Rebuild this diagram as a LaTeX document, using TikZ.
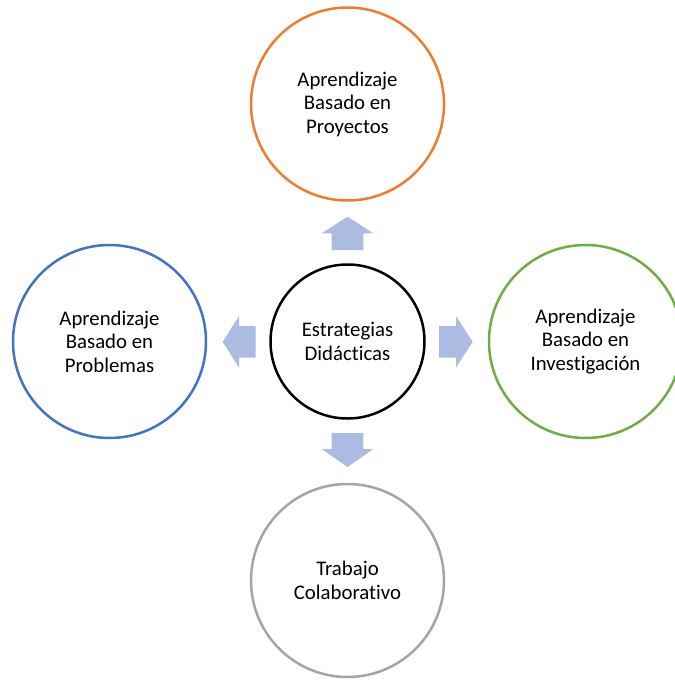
\documentclass[tikz,border=0pt]{standalone}
\usepackage{fontspec}
\setmainfont[Ligatures=NoCommon]{Carlito}
\definecolor{orng}{HTML}{ED7D31}
\definecolor{grn}{HTML}{70AD47}
\definecolor{blu}{HTML}{4472C4}
\definecolor{gry}{HTML}{A5A5A5}
\definecolor{arrblue}{RGB}{171,187,226}
\begin{document}
\begin{tikzpicture}[x=1pt,y=-1pt,
  circ/.style={circle, line width=2.5pt, minimum size=#1, inner sep=0pt, align=center,
    font=\fontsize{20.8}{23.5}\selectfont, text=black},
  blockarrow/.style={fill=arrblue, draw=none}]
\useasboundingbox (0,0) rectangle (675,681);
\node[circ=154, draw=black] (c) at (347.5,341.5) {Estrategias\\Didácticas};
\node[circ=193, draw=orng] (top) at (347.5,104) {Aprendizaje\\Basado en\\Proyectos};
\node[circ=193, draw=blu] (left) at (109.5,341.5) {Aprendizaje\\Basado en\\Problemas};
\node[circ=193, draw=grn] (right) at (585.5,341.5) {Aprendizaje\\Basado en\\Investigación};
\node[circ=193, draw=gry] (bottom) at (347.5,580.5) {Trabajo\\Colaborativo};
% up arrow
\fill[blockarrow] (347.5,216.7) -- (373.3,233.3) -- (363.3,233.3) -- (363.3,250) -- (331.7,250) -- (331.7,233.3) -- (321.7,233.3) -- cycle;
% down arrow
\fill[blockarrow] (347.5,467) -- (373.3,449) -- (363.3,449) -- (363.3,433) -- (331.7,433) -- (331.7,449) -- (321.7,449) -- cycle;
% left arrow
\fill[blockarrow] (222.7,341.8) -- (239,316) -- (239,326) -- (255.7,326) -- (255.7,357.6) -- (239,357.6) -- (239,367.6) -- cycle;
% right arrow
\fill[blockarrow] (472.7,341.8) -- (456,316) -- (456,326) -- (439,326) -- (439,357.6) -- (456,357.6) -- (456,367.6) -- cycle;
\end{tikzpicture}
\end{document}
